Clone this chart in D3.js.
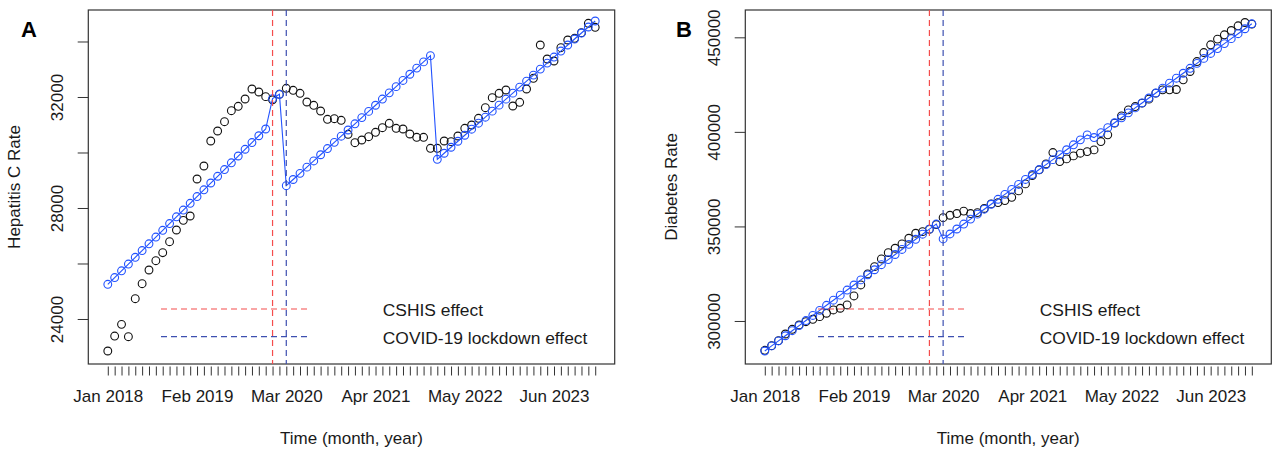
<!DOCTYPE html>
<html>
<head>
<meta charset="utf-8">
<script src="https://cdn.jsdelivr.net/npm/d3@7"></script>
<style>
  body { margin: 0; background: #fff; }
  svg text { font-family: "Liberation Sans", Arial, sans-serif; }
</style>
</head>
<body>
<div id="wrapper"></div>
<script>
// month index 0 = Jan 2018 ... 71 = Dec 2023
const monthIndex = d3.range(72);
const tickLabels = ["Jan 2018", "Feb 2019", "Mar 2020", "Apr 2021", "May 2022", "Jun 2023"];
const tickLabelMonths = [0, 13, 26, 39, 52, 65];
const cshisMonth = 24;     // Jan 2020
const lockdownMonth = 26;  // Mar 2020
const legendLabels = ["CSHIS effect", "COVID-19 lockdown effect"];

const hepObserved = [22846, 23386, 23807, 23362, 24732, 25272, 25765, 26101, 26389, 26786, 27207, 27555,
  27711, 29045, 29513, 30414, 30775, 31110, 31507, 31664, 31928, 32288, 32180, 32012,
  31900, 32097, 32313, 32241, 32133, 31820, 31700, 31495, 31196, 31218, 31160, 30656,
  30353, 30450, 30570, 30727, 30894, 31052, 30872, 30847, 30667, 30547, 30547, 30151,
  30151, 30414, 30390, 30594, 30872, 30991, 31232, 31614, 31975, 32133, 32252, 31676,
  31809, 32288, 32674, 33874, 33369, 33297, 33777, 34054, 34115, 34317, 34656, 34512];

const hepFitted = [25250, 25493, 25737, 25980, 26223, 26467, 26710, 26953, 27196, 27440, 27683, 27926,
  28170, 28413, 28656, 28900, 29143, 29386, 29629, 29873, 30116, 30359, 30603, 30846,
  31940, 32097, 28803, 29026, 29249, 29472, 29695, 29918, 30142, 30365, 30588, 30811,
  31034, 31257, 31480, 31703, 31926, 32150, 32373, 32596, 32819, 33042, 33265, 33488,
  29755, 29972, 30189, 30405, 30622, 30839, 31055, 31272, 31489, 31706, 31922, 32139,
  32356, 32572, 32789, 33006, 33222, 33439, 33656, 33873, 34089, 34306, 34523, 34739];

const diabObserved = [284500, 286931, 289577, 293122, 295608, 297884, 299630, 300882, 302275, 304074, 305820, 306719,
  308466, 313228, 319048, 324868, 328730, 332804, 336137, 338465, 340741, 343756, 346402, 347248,
  348500, 351000, 354600, 355900, 356800, 358100, 356800, 357300, 359500, 361900, 362600, 363650,
  365400, 368783, 372487, 376880, 379894, 383070, 389060, 384287, 385714, 387302, 388730, 389577,
  390476, 394868, 398413, 404603, 408466, 411640, 413386, 415185, 417302, 420476, 422222, 422222,
  422400, 427513, 431910, 437196, 441958, 446032, 449048, 451323, 453598, 456085, 457831, 457000];

const diabFitted = [284127, 286812, 289497, 292182, 294867, 297552, 300237, 302922, 305607, 308292, 310977, 313662,
  316347, 319032, 321717, 324402, 327087, 329772, 332457, 335142, 337827, 340512, 343197, 345882,
  348567, 351252, 343386, 346006, 348626, 351246, 353866, 356486, 359106, 361726, 364346, 366966,
  369586, 372206, 374826, 377446, 380066, 382686, 385306, 387926, 390546, 393166, 395786, 398406,
  396984, 399600, 402216, 404832, 407448, 410064, 412680, 415296, 417912, 420528, 423144, 425760,
  428376, 430992, 433608, 436224, 438840, 441456, 444072, 446688, 449304, 451920, 454536, 457152];

const hepYTicks = [24000, 26000, 28000, 30000, 32000, 34000];
const hepYLabelled = [24000, 28000, 32000];
const diabYTicks = [300000, 350000, 400000, 450000];

const width = 1273, height = 449;
const colObs = "#111", colFit = "#2252ff", colRed = "#f44c4c", colBlue = "#3d4fb0";
const font = '"Liberation Sans", Arial, sans-serif';

const svg = d3.select("#wrapper").append("svg")
    .attr("width", width)
    .attr("height", height);

function drawPanel(p) {
    const top = 10, bottom = 364;

    const x = d3.scaleLinear()
        .domain([-2.84, 73.84])   // R style 4% padding round 0..71
        .range([p.left, p.right]);
    const y = d3.scaleLinear()
        .domain(p.ylim)
        .range([bottom, top]);

    const g = svg.append("g");

    // plot box
    g.append("rect")
        .attr("x", p.left).attr("y", top)
        .attr("width", p.right - p.left).attr("height", bottom - top)
        .attr("fill", "none").attr("stroke", "#333").attr("stroke-width", 1.2);

    // x axis: tick every month, only a few labels
    const xAxis = d3.axisBottom(x)
        .tickValues(monthIndex)
        .tickSize(9)
        .tickPadding(14.4)
        .tickFormat(d => {
            const k = tickLabelMonths.indexOf(d);
            return k >= 0 ? tickLabels[k] : "";
        });
    const gx = g.append("g")
        .attr("transform", `translate(0,${bottom + 2.5})`)
        .call(xAxis);
    gx.select(".domain").remove();
    gx.selectAll(".tick line").attr("stroke", "#333");
    gx.selectAll(".tick text").attr("fill", "#1a1a1a")
        .style("font-size", "17px").style("font-family", font);

    // y axis, labels parallel to the axis
    const yAxis = d3.axisLeft(y)
        .tickValues(p.yticks)
        .tickSize(10.6)
        .tickFormat(d => p.ylabelled.includes(d) ? String(d) : "");
    const gy = g.append("g")
        .attr("transform", `translate(${p.left},0)`)
        .call(yAxis);
    gy.select(".domain").remove();
    gy.selectAll(".tick line").attr("stroke", "#333");
    gy.selectAll(".tick text")
        .attr("x", null).attr("dy", null)
        .attr("transform", "translate(-25,0) rotate(-90)")
        .attr("text-anchor", "middle")
        .attr("fill", "#1a1a1a")
        .style("font-size", "17px").style("font-family", font);

    // axis titles
    g.append("text")
        .attr("x", (p.left + p.right) / 2).attr("y", 444)
        .attr("text-anchor", "middle")
        .style("font-size", "17px").attr("fill", "#1a1a1a")
        .text("Time (month, year)");
    g.append("text")
        .attr("transform", `translate(${p.left - 68.5},${(top + bottom) / 2}) rotate(-90)`)
        .attr("text-anchor", "middle")
        .style("font-size", "17px").attr("fill", "#1a1a1a")
        .text(p.ytitle);

    // observed values
    g.append("g").selectAll("circle")
        .data(p.observed)
        .join("circle")
        .attr("cx", (d, i) => x(monthIndex[i]))
        .attr("cy", d => y(d))
        .attr("r", 3.9)
        .attr("fill", "none")
        .attr("stroke", colObs)
        .attr("stroke-width", 1.1);

    // segmented fit
    const line = d3.line()
        .x((d, i) => x(monthIndex[i]))
        .y(d => y(d));
    g.append("path")
        .attr("d", line(p.fitted))
        .attr("fill", "none")
        .attr("stroke", colFit)
        .attr("stroke-width", 1.1);
    g.append("g").selectAll("circle")
        .data(p.fitted)
        .join("circle")
        .attr("cx", (d, i) => x(monthIndex[i]))
        .attr("cy", d => y(d))
        .attr("r", 3.9)
        .attr("fill", "none")
        .attr("stroke", colFit)
        .attr("stroke-width", 1.1);

    // intervention lines
    [[cshisMonth, colRed], [lockdownMonth, colBlue]].forEach(([m, c]) => {
        g.append("line")
            .attr("x1", x(m)).attr("x2", x(m))
            .attr("y1", top).attr("y2", bottom)
            .attr("stroke", c).attr("stroke-width", 1.2)
            .attr("stroke-dasharray", "6,4");
    });

    // legend (no frame)
    const lx = p.left + 72.7;
    [[colRed, 309], [colBlue, 336.7]].forEach(([c, ly], k) => {
        g.append("line")
            .attr("x1", lx).attr("x2", lx + 148)
            .attr("y1", ly).attr("y2", ly)
            .attr("stroke", c).attr("stroke-width", 1.2)
            .attr("stroke-dasharray", "6,4");
        g.append("text")
            .attr("x", p.left + 294.5).attr("y", ly + 7)
            .style("font-size", "17.4px").attr("fill", "#1a1a1a")
            .text(legendLabels[k]);
    });

    // panel letter
    svg.append("text")
        .attr("x", p.letterX).attr("y", 36.5)
        .attr("text-anchor", "middle")
        .style("font-size", "22px").style("font-weight", "bold")
        .attr("fill", "#000")
        .text(p.letter);
}

drawPanel({
    letter: "A", letterX: 29,
    left: 88.3, right: 614.7,
    ylim: [22378, 35135],
    yticks: hepYTicks, ylabelled: hepYLabelled,
    ytitle: "Hepatitis C Rate",
    observed: hepObserved, fitted: hepFitted
});

drawPanel({
    letter: "B", letterX: 684,
    left: 745.3, right: 1271.3,
    ylim: [277249, 464444],
    yticks: diabYTicks, ylabelled: diabYTicks,
    ytitle: "Diabetes Rate",
    observed: diabObserved, fitted: diabFitted
});
</script>
</body>
</html>
